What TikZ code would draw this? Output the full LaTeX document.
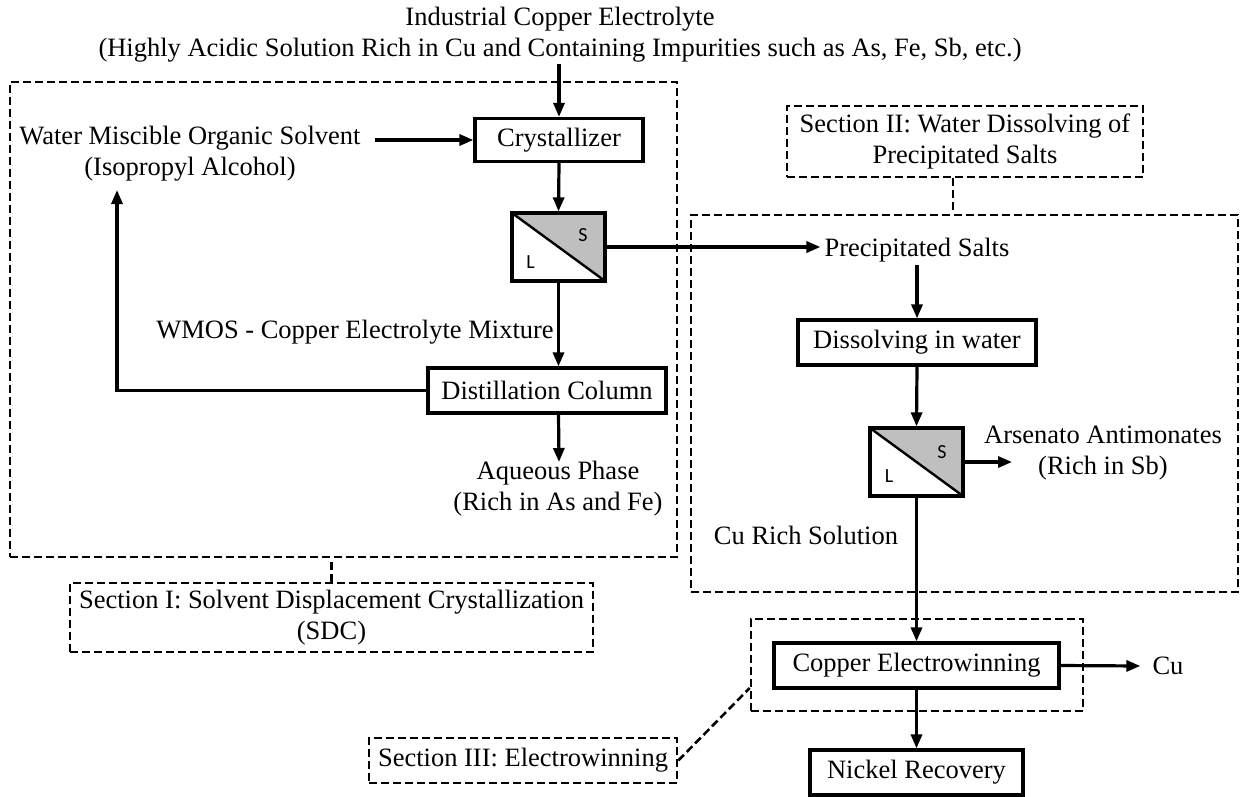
\documentclass[tikz,border=0pt]{standalone}
\usepackage{fontspec}
\setmainfont{Liberation Serif}
\newfontfamily\lblfont{Carlito}
\usetikzlibrary{arrows.meta}
\begin{document}
\begin{tikzpicture}[x=1pt,y=-1pt,
  every node/.style={font=\fontsize{26.5}{31}\selectfont},
  txt/.style={align=center, inner sep=0},
  procbox/.style={draw, line width=3.2pt, inner sep=0, align=center},
  secbox/.style={draw, line width=2.6pt, dash pattern=on 8pt off 4pt, inner sep=0, align=center},
  flow/.style={line width=3.2pt, -{Triangle[length=14pt,width=11pt]}},
  link/.style={line width=2.6pt, dash pattern=on 8pt off 4pt},
  filt/.style={draw, line width=3.2pt, minimum width=93pt, minimum height=68pt, inner sep=0,
    path picture={
      \fill[black!25] (path picture bounding box.north west) -- (path picture bounding box.north east)
        -- (path picture bounding box.south east) -- cycle;
      \draw[line width=2.4pt] (path picture bounding box.north west) -- (path picture bounding box.south east);}},
  sl/.style={font=\lblfont\fontsize{20}{20}\selectfont, inner sep=0}
]
\useasboundingbox (0,0) rectangle (1247,797);

% section frames
\node[secbox, minimum width=667pt, minimum height=475pt] (sec1) at (343.5,319.5) {};
\node[secbox, minimum width=547pt, minimum height=377pt] (sec2) at (964.5,403.5) {};
\node[secbox, minimum width=332pt, minimum height=92pt] (sec3) at (917,665) {};

% section labels
\node[secbox, minimum width=523pt, minimum height=69pt] (sec1lbl) at (331.5,617.5)
  {Section I: Solvent Displacement Crystallization\\(SDC)};
\node[secbox, minimum width=356pt, minimum height=71pt] (sec2lbl) at (965,141.5)
  {Section II: Water Dissolving of\\Precipitated Salts};
\node[secbox, minimum width=308pt, minimum height=45pt] (sec3lbl) at (523,760.5)
  {Section III: Electrowinning};

% texts
\node[txt] (title) at (560,35) {Industrial Copper Electrolyte\\(Highly Acidic Solution Rich in Cu and Containing Impurities such as As, Fe, Sb, etc.)};
\node[txt] (water) at (190,154) {Water Miscible Organic Solvent\\(Isopropyl Alcohol)};
\node[txt] (wmos) at (355,332) {WMOS - Copper Electrolyte Mixture};
\node[txt] (aq) at (558,489) {Aqueous Phase\\(Rich in As and Fe)};
\node[txt] (precip) at (917,250) {Precipitated Salts};
\node[txt] (ars) at (1103,453) {Arsenato Antimonates\\(Rich in Sb)};
\node[txt] (curich) at (806,535) {Cu Rich Solution};
\node[txt] (cutext) at (1168,666) {Cu};

% process boxes
\node[procbox, minimum width=168pt, minimum height=43pt] (crys) at (559,140) {Crystallizer};
\node[procbox, minimum width=238pt, minimum height=45pt] (distil) at (547,390.5) {Distillation Column};
\node[procbox, minimum width=238pt, minimum height=45pt] (dis) at (917,342.5) {Dissolving in water};
\node[procbox, minimum width=285pt, minimum height=45pt] (cew) at (916.5,665.5) {Copper Electrowinning};
\node[procbox, minimum width=213pt, minimum height=45pt] (nick) at (916.5,772.5) {Nickel Recovery};

% filters
\node[filt] (f1) at (558.5,247) {};
\node[sl] (f1s) at ([xshift=24.5pt,yshift=12pt]f1.center) {S};
\node[sl] (f1l) at ([xshift=-28pt,yshift=-15pt]f1.center) {L};
\node[filt] (f2) at (916.5,462) {};
\node[sl] (f2s) at ([xshift=25.5pt,yshift=10pt]f2.center) {S};
\node[sl] (f2l) at ([xshift=-27.5pt,yshift=-14pt]f2.center) {L};

% free ends
\coordinate (tin) at (559,64);
\coordinate (rc) at (117,190);
\coordinate (aqin) at (559,462);
\coordinate (arsin) at (1012,462);

% connectors
\draw[flow] (tin) -- (crys.north);
\draw[flow] ([xshift=14pt]water.east |- crys.west) -- (crys.west);
\draw[flow] (crys.south) -- (f1.north);
\draw[flow] (f1.east) -- ([xshift=-4pt]precip.west |- f1.east);
\draw[flow] (f1.south) -- (f1.south |- distil.north);
\draw[flow] (f1.south |- distil.south) -- (aqin);
\draw[flow] (distil.west) -| (rc);
\draw[flow] ([yshift=-3pt]precip.south) -- (dis.north);
\draw[flow] (dis.south) -- (f2.north);
\draw[flow] (f2.east) -- (arsin);
\draw[flow] (f2.south) -- (cew.north);
\draw[flow] (cew.east) -- ([xshift=-12pt]cutext.west);
\draw[flow] (cew.south) -- (nick.north);

% section links
\draw[link] (sec1lbl.north) -- (sec1lbl.north |- sec1.south);
\draw[link] ([xshift=-12pt]sec2lbl.south) -- ([xshift=-12pt]sec2lbl.south |- sec2.north);
\draw[link] (sec3lbl.east) -- ([yshift=-23pt]sec3.west);
\end{tikzpicture}
\end{document}
